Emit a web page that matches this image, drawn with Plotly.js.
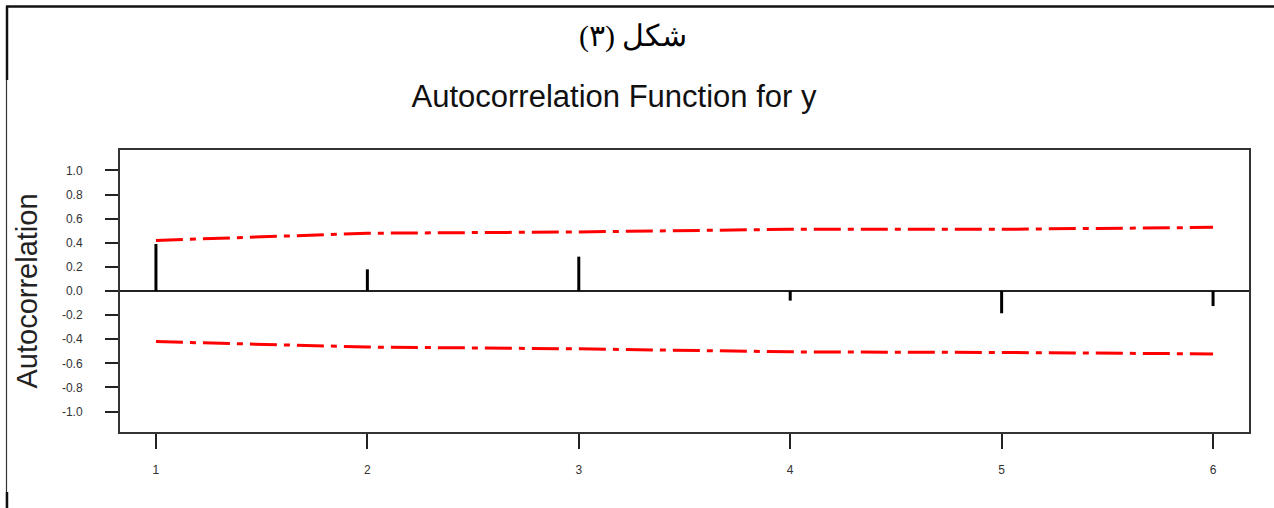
<!DOCTYPE html>
<html>
<head>
<meta charset="utf-8">
<script src="https://cdn.plot.ly/plotly-3.0.1.min.js"></script>
<style>
  html, body { margin: 0; padding: 0; background: #fff; }
  #chart { width: 1274px; height: 508px; }
</style>
</head>
<body>
<div id="chart"></div>
<script>
// ---- data ----
const lags = [1, 2, 3, 4, 5, 6];
const acf = [0.39, 0.18, 0.285, -0.08, -0.185, -0.125];
const upperLimit = [0.42, 0.479, 0.49, 0.512, 0.512, 0.528];
const lowerLimit = [-0.42, -0.465, -0.48, -0.505, -0.51, -0.522];
const yTickVals = [-1.0, -0.8, -0.6, -0.4, -0.2, 0.0, 0.2, 0.4, 0.6, 0.8, 1.0];
const yTickText = ["-1.0", "-0.8", "-0.6", "-0.4", "-0.2", "0.0", "0.2", "0.4", "0.6", "0.8", "1.0"];
const xTickVals = [1, 2, 3, 4, 5, 6];
const figureLabel = "شكل (٣)";
const chartTitle = "Autocorrelation Function for y";
const yTitle = "Autocorrelation";

// spikes built from the acf values
const spikeX = [], spikeY = [];
lags.forEach((l, i) => { spikeX.push(l, l, null); spikeY.push(0, acf[i], null); });

const dashStyle = "27px,7px,6px,7px";

const traces = [
  { x: spikeX, y: spikeY, type: "scatter", mode: "lines",
    line: { color: "#000", width: 3 }, hoverinfo: "skip", showlegend: false },
  { x: lags, y: upperLimit, type: "scatter", mode: "lines",
    line: { color: "#ff0000", width: 3, dash: dashStyle }, showlegend: false },
  { x: lags, y: lowerLimit, type: "scatter", mode: "lines",
    line: { color: "#ff0000", width: 3, dash: dashStyle }, showlegend: false }
];

// pixel helpers for decoration in paper coords
const L = 120, R = 25, T = 150, B = 76, W = 1274, H = 508;
const pw = W - L - R, ph = H - T - B;
const px = v => (v - L) / pw;
const py = v => (H - B - v) / ph;

const layout = {
  width: W, height: H,
  margin: { l: L, r: R, t: T, b: B },
  paper_bgcolor: "#fff", plot_bgcolor: "#fff",
  font: { family: "Liberation Sans, Arial, sans-serif", color: "#222" },
  title: {
    text: chartTitle,
    font: { family: "Liberation Sans, Arial, sans-serif", size: 31, color: "#111" },
    x: 614 / W, xanchor: "center", xref: "container",
    y: 1 - 96 / H, yanchor: "middle", yref: "container"
  },
  xaxis: {
    range: [0.83, 6.17], tickvals: xTickVals, ticktext: xTickVals.map(String),
    ticks: "outside", ticklen: 15, tickwidth: 2, tickcolor: "#222",
    showline: true, linecolor: "#333", linewidth: 2, mirror: true,
    showgrid: false, zeroline: false,
    tickfont: { size: 12, color: "#333" }, ticklabelstandoff: 11
  },
  yaxis: {
    range: [-1.17, 1.17], tickvals: yTickVals, ticktext: yTickText,
    ticks: "outside", ticklen: 13, tickwidth: 2, tickcolor: "#222",
    showline: true, linecolor: "#333", linewidth: 2, mirror: true,
    showgrid: false, zeroline: true, zerolinecolor: "#222", zerolinewidth: 2,
    tickfont: { size: 12, color: "#333" }, ticklabelstandoff: 20,
    title: { text: yTitle, font: { size: 29, color: "#222" }, standoff: 16 }
  },
  annotations: [
    { text: figureLabel + "\u200F", xref: "paper", yref: "paper",
      x: px(633), y: py(36), xanchor: "center", yanchor: "middle", showarrow: false,
      font: { family: "Liberation Serif, DejaVu Serif, serif", size: 30, color: "#000" } }
  ],
  shapes: [
    { type: "line", xref: "paper", yref: "paper", x0: px(6), x1: px(1274), y0: py(6.5), y1: py(6.5),
      line: { color: "#111", width: 2.5 } },
    { type: "line", xref: "paper", yref: "paper", x0: px(7), x1: px(7), y0: py(6), y1: py(80),
      line: { color: "#111", width: 2.5 } },
    { type: "line", xref: "paper", yref: "paper", x0: px(6.5), x1: px(6.5), y0: py(80), y1: py(508),
      line: { color: "#333", width: 1.2 } },
    { type: "line", xref: "paper", yref: "paper", x0: px(7), x1: px(7), y0: py(492), y1: py(508),
      line: { color: "#111", width: 2.5 } }
  ]
};

Plotly.newPlot("chart", traces, layout, { displayModeBar: false, staticPlot: true });
</script>
</body>
</html>
